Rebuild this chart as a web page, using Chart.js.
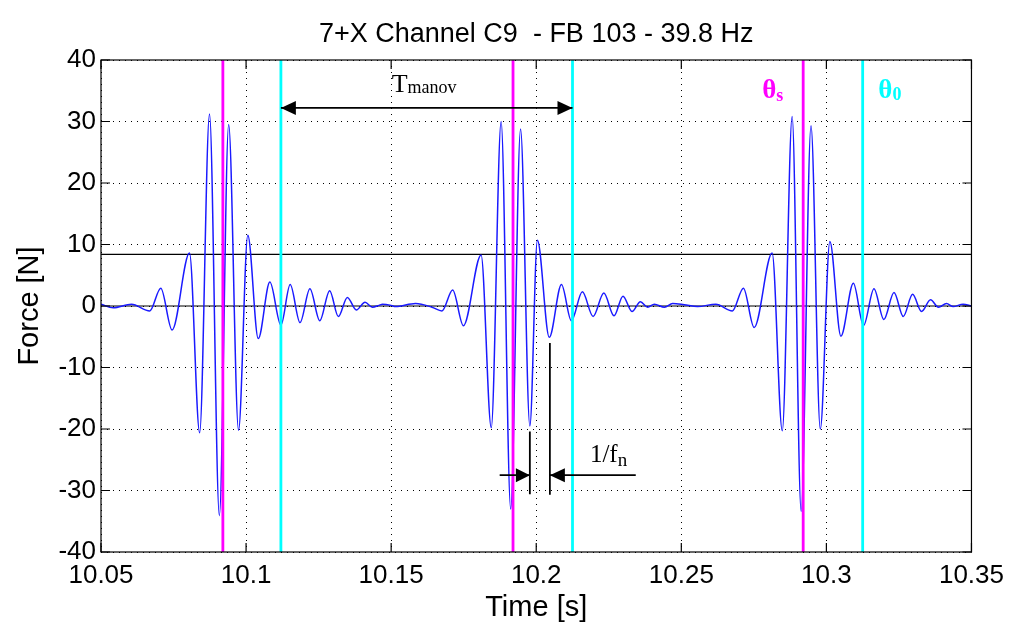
<!DOCTYPE html>
<html>
<head>
<meta charset="utf-8">
<script src="https://cdn.jsdelivr.net/npm/chart.js@4/dist/chart.umd.min.js"></script>
<style>
  html, body { margin: 0; padding: 0; background: #fff; }
  #wrap { width: 1012px; height: 625px; }
</style>
</head>
<body>
<div id="wrap"><canvas id="c" width="1012" height="625"></canvas></div>
<script>
// Measured force signal, three strokes
const timeS = [
  10.0500, 10.0542, 10.0605, 10.0668, 10.0706, 10.0745, 10.0805, 10.0840, 10.0874, 10.0908,
  10.0940, 10.0974, 10.1006, 10.1042, 10.1082, 10.1120, 10.1152, 10.1186, 10.1220, 10.1254,
  10.1288, 10.1318, 10.1349, 10.1380, 10.1410, 10.1435, 10.1458, 10.1470, 10.1500,
  10.1515, 10.1584, 10.1641, 10.1675, 10.1712, 10.1749, 10.1810, 10.1845, 10.1879, 10.1912,
  10.1946, 10.1978, 10.2004, 10.2045, 10.2087, 10.2121, 10.2159, 10.2196, 10.2233, 10.2268,
  10.2299, 10.2330, 10.2359, 10.2384, 10.2407, 10.2442, 10.2470, 10.2510,
  10.2556, 10.2619, 10.2676, 10.2714, 10.2751, 10.2813, 10.2848, 10.2882, 10.2913, 10.2947,
  10.2979, 10.3012, 10.3050, 10.3093, 10.3128, 10.3164, 10.3198, 10.3233, 10.3265, 10.3297,
  10.3328, 10.3359, 10.3386, 10.3414, 10.3437, 10.3471, 10.3500
];
const forceN = [
  0.3, -0.3, 0.3, -0.8, 2.9, -3.9, 8.6, -20.6, 31.2, -34.1,
  29.5, -20.2, 11.5, -5.3, 3.9, -3.1, 3.5, -2.7, 2.8, -2.4,
  2.5, -1.7, 1.4, -0.65, 0.6, -0.2, 0.1, 0.3, 0.1,
  -0.1, 0.4, -0.2, -0.8, 2.6, -3.2, 8.3, -19.8, 30.0, -33.0,
  28.8, -19.5, 10.7, -5.1, 3.5, -2.4, 2.3, -1.7, 2.1, -1.6,
  1.6, -0.9, 0.7, -0.2, 0.3, -0.2, 0.4, 0.2,
  -0.1, 0.3, -0.8, 2.9, -3.5, 8.6, -20.3, 30.8, -33.4, 29.3,
  -20.0, 10.5, -4.9, 3.7, -3.2, 2.8, -2.2, 2.2, -1.7, 1.9,
  -0.9, 1.0, -0.2, 0.4, -0.1, 0.3, 0.0
];

// Cursor times: stroke instant (theta_s) and end of stroke (theta_0)
const thetaS = [10.092, 10.192, 10.292];
const theta0 = [10.112, 10.2125, 10.3125];
// Force threshold level [N]
const thresholdN = 8.4;

// Manoeuvre period arrow (start, end) and its height [N]
const tManov = [10.112, 10.2125];
const tManovLevel = 32.2;
// Natural period markers: times, upper ends of the ticks, lower ends of the ticks
const fnTimes = [10.1978, 10.2047];
const fnTop = [-20.4, -6.0];
const fnBottom = [-30.6, -30.7];
const fnArrowLevel = -27.5;
const fnArrowOuter = [10.1874, 10.2343];

const xTickValues = [10.05, 10.1, 10.15, 10.2, 10.25, 10.3, 10.35];
const xTickLabels = ['10.05', '10.1', '10.15', '10.2', '10.25', '10.3', '10.35'];
const yTickValues = [-40, -30, -20, -10, 0, 10, 20, 30, 40];
const yTickLabels = ['-40', '-30', '-20', '-10', '0', '10', '20', '30', '40'];

const chartTitle = '7+X Channel C9  - FB 103 - 39.8 Hz';

const X_MIN = 10.05, X_MAX = 10.35, Y_MIN = -40, Y_MAX = 40;
const MAGENTA = '#ff00ff', CYAN = '#00ffff';

const signal = timeS.map((t, i) => ({ x: t, y: forceN[i] }));

function vLine(t, color, order) {
  return {
    data: [{ x: t, y: Y_MIN }, { x: t, y: Y_MAX }],
    borderColor: color, borderWidth: 2.8, pointRadius: 0, order: order, tension: 0
  };
}
function hLine(y, color, width) {
  return {
    data: [{ x: X_MIN, y: y }, { x: X_MAX, y: y }],
    borderColor: color, borderWidth: width, pointRadius: 0, order: 3, tension: 0
  };
}
function seg(x1, y1, x2, y2) {
  return {
    data: [{ x: x1, y: y1 }, { x: x2, y: y2 }],
    borderColor: '#000', borderWidth: 1.8, pointRadius: 0, order: 0, tension: 0
  };
}

const datasets = [
  {
    data: signal, borderColor: '#1a1aff', borderWidth: 1.5, pointRadius: 0,
    cubicInterpolationMode: 'monotone', order: 2
  },
  hLine(0, '#000', 1.2),
  hLine(thresholdN, '#000', 1.2),
  ...thetaS.map(t => vLine(t, MAGENTA, 1)),
  ...theta0.map(t => vLine(t, CYAN, 1)),
  seg(tManov[0], tManovLevel, tManov[1], tManovLevel),
  seg(fnTimes[0], fnTop[0], fnTimes[0], fnBottom[0]),
  seg(fnTimes[1], fnTop[1], fnTimes[1], fnBottom[1]),
  seg(fnArrowOuter[0], fnArrowLevel, fnTimes[0], fnArrowLevel),
  seg(fnTimes[1], fnArrowLevel, fnArrowOuter[1], fnArrowLevel)
];

function arrowHead(ctx, x, y, dir, len, half) {
  ctx.beginPath();
  ctx.moveTo(x, y);
  ctx.lineTo(x - dir * len, y - half);
  ctx.lineTo(x - dir * len, y + half);
  ctx.closePath();
  ctx.fill();
}

function subText(ctx, x, y, main, sub, mainFont, subFont, color, subDy) {
  ctx.fillStyle = color;
  ctx.textAlign = 'left';
  ctx.textBaseline = 'alphabetic';
  ctx.font = mainFont;
  ctx.fillText(main, x, y);
  const w = ctx.measureText(main).width;
  ctx.font = subFont;
  ctx.fillText(sub, x + w, y + subDy);
}

const sans = '"Liberation Sans", Arial, sans-serif';
const serif = '"Liberation Serif", "Times New Roman", serif';

// Frame, inward tick marks, arrow heads, title and annotation labels
const decorations = {
  id: 'decorations',
  afterDatasetsDraw(chart) {
    const { ctx, chartArea: a, scales: { x, y } } = chart;
    ctx.save();
    ctx.strokeStyle = '#000';
    ctx.lineWidth = 1.2;
    ctx.strokeRect(a.left, a.top, a.right - a.left, a.bottom - a.top);
    const tl = 9;
    ctx.beginPath();
    xTickValues.forEach(v => {
      const px = x.getPixelForValue(v);
      ctx.moveTo(px, a.bottom); ctx.lineTo(px, a.bottom - tl);
      ctx.moveTo(px, a.top); ctx.lineTo(px, a.top + tl);
    });
    yTickValues.forEach(v => {
      const py = y.getPixelForValue(v);
      ctx.moveTo(a.left, py); ctx.lineTo(a.left + tl, py);
      ctx.moveTo(a.right, py); ctx.lineTo(a.right - tl, py);
    });
    ctx.stroke();

    ctx.fillStyle = '#000';
    const ym = y.getPixelForValue(tManovLevel);
    arrowHead(ctx, x.getPixelForValue(tManov[0]), ym, -1, 15, 7);
    arrowHead(ctx, x.getPixelForValue(tManov[1]), ym, 1, 15, 7);
    const yf = y.getPixelForValue(fnArrowLevel);
    arrowHead(ctx, x.getPixelForValue(fnTimes[0]), yf, 1, 14, 7);
    arrowHead(ctx, x.getPixelForValue(fnTimes[1]), yf, -1, 15, 7);

    // Title centred over the plot area
    ctx.fillStyle = '#000';
    ctx.font = '27px ' + sans;
    ctx.textAlign = 'center';
    ctx.textBaseline = 'alphabetic';
    ctx.fillText(chartTitle, (a.left + a.right) / 2, a.top - 18.5);

    subText(ctx, x.getPixelForValue(10.1502), y.getPixelForValue(34.8),
      'T', 'manov', '26px ' + serif, '18px ' + serif, '#000', 1.5);
    subText(ctx, x.getPixelForValue(10.2185), y.getPixelForValue(-25.3),
      '1/f', 'n', '25px ' + serif, '19px ' + serif, '#000', 4);
    subText(ctx, x.getPixelForValue(10.2779), y.getPixelForValue(33.8),
      'θ', 's', 'bold 27px ' + serif, 'bold 18px ' + serif, MAGENTA, 3);
    subText(ctx, x.getPixelForValue(10.3179), y.getPixelForValue(33.8),
      'θ', '0', 'bold 27px ' + serif, 'bold 18px ' + serif, CYAN, 2);
    ctx.restore();
  }
};

new Chart(document.getElementById('c'), {
  type: 'line',
  data: { datasets },
  plugins: [decorations],
  options: {
    responsive: false,
    animation: false,
    layout: { padding: { left: 0, right: 37, top: 60, bottom: 0 } },
    plugins: {
      legend: { display: false },
      tooltip: { enabled: false },
      title: { display: false }
    },
    scales: {
      x: {
        type: 'linear', min: X_MIN, max: X_MAX,
        afterBuildTicks: s => { s.ticks = xTickValues.map(v => ({ value: v })); },
        afterFit: s => { s.height = 73; },
        ticks: {
          color: '#000', padding: 8, maxRotation: 0, autoSkip: false,
          font: { family: sans, size: 26 },
          callback: (v, i) => xTickLabels[i]
        },
        grid: { color: '#000', lineWidth: 1, drawTicks: false },
        border: { display: false, dash: [1, 5] },
        title: {
          display: true, text: 'Time [s]', color: '#000',
          font: { family: sans, size: 29, lineHeight: 1.2 },
          padding: { top: 0, bottom: 0 }
        }
      },
      y: {
        type: 'linear', min: Y_MIN, max: Y_MAX,
        afterBuildTicks: s => { s.ticks = yTickValues.map(v => ({ value: v })); },
        afterFit: s => { s.width = 101; },
        ticks: {
          color: '#000', padding: 5, autoSkip: false,
          font: { family: sans, size: 26 },
          callback: (v, i) => yTickLabels[i]
        },
        grid: { color: '#000', lineWidth: 1, drawTicks: false },
        border: { display: false, dash: [1, 5] },
        title: {
          display: true, text: 'Force [N]', color: '#000',
          font: { family: sans, size: 29, lineHeight: 1.2 },
          padding: { top: 13, bottom: 0 }
        }
      }
    }
  }
});
</script>
</body>
</html>
